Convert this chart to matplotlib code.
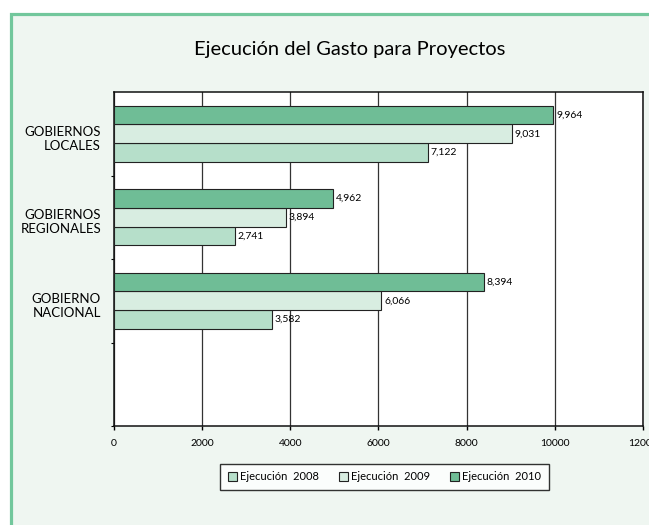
import matplotlib
matplotlib.use("Agg")
from matplotlib import pyplot as plt
from matplotlib.patches import Rectangle
from matplotlib.transforms import blended_transform_factory
import numpy as np

# data
categories = ["GOBIERNOS\nLOCALES", "GOBIERNOS\nREGIONALES", "GOBIERNO\nNACIONAL"]
series_names = ["Ejecución  2008", "Ejecución  2009", "Ejecución  2010"]
ejec_2008 = [7122, 2741, 3582]
ejec_2009 = [9031, 3894, 6066]
ejec_2010 = [9964, 4962, 8394]
x_ticks = [0, 2000, 4000, 6000, 8000, 10000, 12000]

colors = ["#B6DFCA", "#D8EDE1", "#6FBD96"]
plt.rcParams["font.family"] = ["Lato", "DejaVu Sans"]

fig = plt.figure(figsize=(6.49, 5.25), dpi=100)
fig.patch.set_facecolor("white")

# green framed panel behind the chart
panel = Rectangle((10.5 / 649, -0.02), 1.05, 1 - 13.5 / 525 + 0.02,
                  transform=fig.transFigure, facecolor="#EFF6F1",
                  edgecolor="#72C79C", linewidth=2.3, zorder=-10)
fig.patches.append(panel)

ax = fig.add_axes([114 / 649, 1 - 426 / 525, 529 / 649, 334 / 525])
ax.set_facecolor("white")

n_slots = len(categories) + 1  # the reference keeps one empty slot at the bottom
y = np.arange(len(categories))
h = 0.224
series = [ejec_2008, ejec_2009, ejec_2010]
offsets = [h, 0, -h]
for vals, off, col, name in zip(series, offsets, colors, series_names):
    bars = ax.barh(y + off, vals, height=h, color=col, edgecolor="#222222",
                   linewidth=0.8, label=name, zorder=3)
    for b, v in zip(bars, vals):
        ax.annotate(f"{v:,}", (b.get_width(), b.get_y() + b.get_height() / 2),
                    xytext=(2, 0), textcoords="offset points",
                    va="center", ha="left", fontsize=7.5, zorder=4)

ax.set_xlim(0, 12000)
ax.set_ylim(n_slots - 0.5, -0.5)
ax.set_xticks(x_ticks)
ax.set_xticklabels([str(t) for t in x_ticks], fontsize=7.5)
ax.tick_params(axis="x", direction="out", length=3, width=1, pad=6)
ax.set_yticks([])
ax.set_yticks(np.arange(n_slots) + 0.5, minor=True)
ax.tick_params(axis="y", which="minor", direction="out", length=2.5, width=0.8)
ax.grid(axis="x", color="#333333", linewidth=0.9, zorder=1)
for s in ax.spines.values():
    s.set_linewidth(1.1)
    s.set_color("#111111")

trans = blended_transform_factory(ax.transAxes, ax.transData)
for i, cat in enumerate(categories):
    ax.text(-13 / 529, i + 0.06, cat, transform=trans, ha="right", va="center",
            multialignment="right", fontsize=9.5, linespacing=1.2)

fig.text(350 / 649, 1 - 50 / 525, "Ejecución del Gasto para Proyectos",
         ha="center", va="center", fontsize=14.5)

leg = fig.legend(loc="center", bbox_to_anchor=(384.5 / 649, 1 - 477 / 525),
                 ncol=3, fontsize=8, frameon=True, fancybox=False,
                 handlelength=0.8, handleheight=0.8, handletextpad=0.3,
                 columnspacing=1.8, borderpad=0.7)
leg.get_frame().set_edgecolor("black")
leg.get_frame().set_linewidth(1)
leg.get_frame().set_facecolor("white")
for p in leg.get_patches():
    p.set_linewidth(0.8)

fig.savefig("out.png", dpi=100)
